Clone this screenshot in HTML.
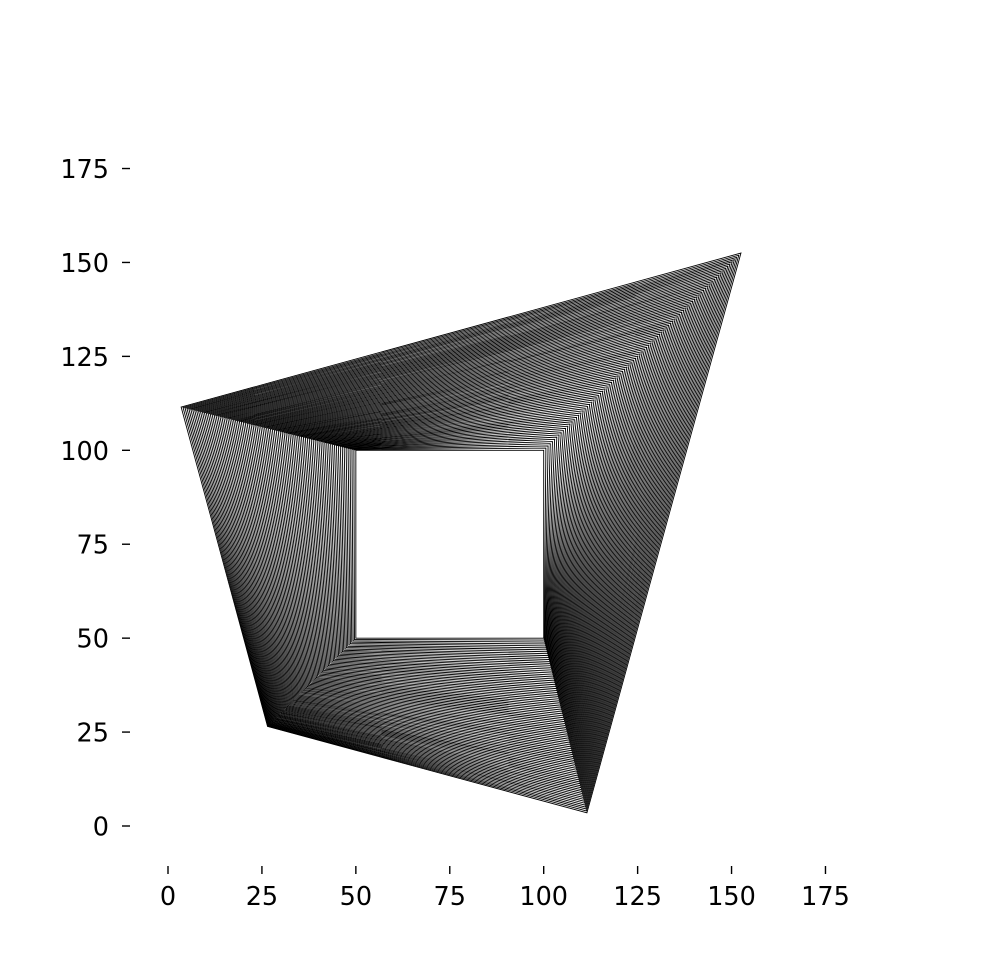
<!DOCTYPE html>
<html><head><meta charset="utf-8">
<style>
html,body{margin:0;padding:0;background:#fff;}
svg text{font-family:"DejaVu Sans","Liberation Sans",sans-serif;font-size:25.5px;fill:#000;}
</style></head>
<body>
<svg id="chart" width="988" height="966" viewBox="0 0 988 966" xmlns="http://www.w3.org/2000/svg">
<g id="marks"></g>
<g id="axes"></g>
</svg>
<script>
const outerX = [3.5, 152.5, 111.5, 26.5];
const outerY = [111.5, 152.5, 3.5, 26.5];
const innerX = [50, 100, 100, 50];
const innerY = [100, 100, 50, 50];
const cornerEase = [1, 1, 1, 1.4];
const steps = 90;
const xTicks = [0, 25, 50, 75, 100, 125, 150, 175];
const yTicks = [0, 25, 50, 75, 100, 125, 150, 175];

const NS = "http://www.w3.org/2000/svg";
const sx = v => 168 + v * 3.757;
const sy = v => 826 - v * 3.757;

const marks = document.getElementById('marks');
for (let i = 0; i <= steps; i++) {
  const t = i / steps;
  const pts = [];
  for (let k = 0; k < 4; k++) {
    const f = Math.pow(t, cornerEase[k]);
    const x = outerX[k] + (innerX[k] - outerX[k]) * f;
    const y = outerY[k] + (innerY[k] - outerY[k]) * f;
    pts.push(sx(x).toFixed(2) + ',' + sy(y).toFixed(2));
  }
  const p = document.createElementNS(NS, 'polygon');
  p.setAttribute('points', pts.join(' '));
  p.setAttribute('fill', 'none');
  p.setAttribute('stroke', '#000');
  p.setAttribute('stroke-width', '0.9');
  
  
  marks.appendChild(p);
}

const axes = document.getElementById('axes');
xTicks.forEach(v => {
  const l = document.createElementNS(NS, 'line');
  l.setAttribute('x1', sx(v)); l.setAttribute('x2', sx(v));
  l.setAttribute('y1', 866); l.setAttribute('y2', 874);
  l.setAttribute('stroke', '#000'); l.setAttribute('stroke-width', '1.4');
  
  
  axes.appendChild(l);
  const tx = document.createElementNS(NS, 'text');
  tx.setAttribute('x', sx(v)); tx.setAttribute('y', 905);
  tx.setAttribute('text-anchor', 'middle');
  tx.textContent = v;
  
  
  axes.appendChild(tx);
});
yTicks.forEach(v => {
  const l = document.createElementNS(NS, 'line');
  l.setAttribute('x1', 122); l.setAttribute('x2', 130);
  l.setAttribute('y1', sy(v)); l.setAttribute('y2', sy(v));
  l.setAttribute('stroke', '#000'); l.setAttribute('stroke-width', '1.4');
  
  
  axes.appendChild(l);
  const tx = document.createElementNS(NS, 'text');
  tx.setAttribute('x', 109); tx.setAttribute('y', sy(v) + 9.5);
  tx.setAttribute('text-anchor', 'end');
  tx.textContent = v;
  
  
  axes.appendChild(tx);
});
</script>
</body></html>
